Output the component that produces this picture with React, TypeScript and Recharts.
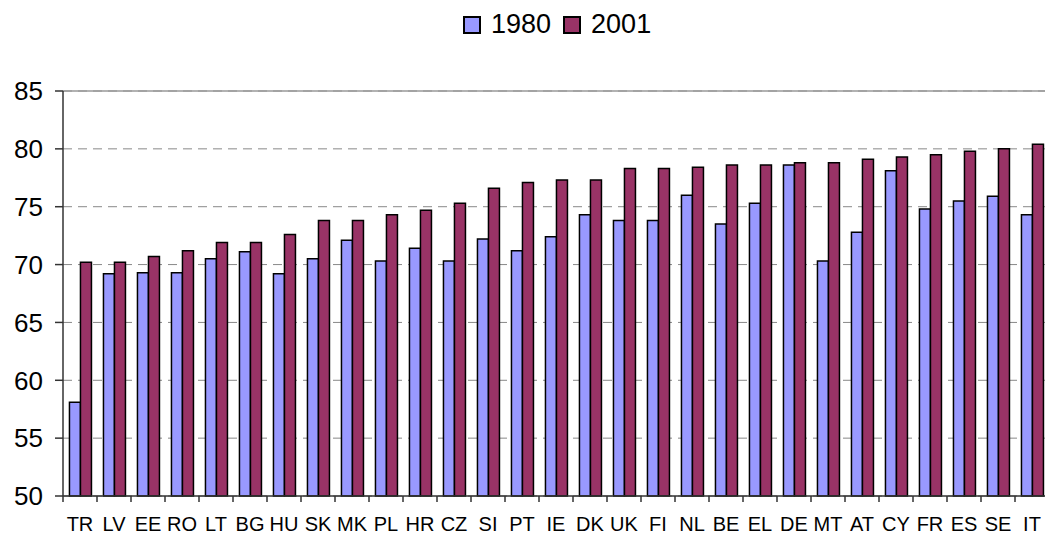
import { Bar, BarChart, CartesianGrid, ReferenceLine, XAxis, YAxis } from "recharts";

const countries = [
  "TR", "LV", "EE", "RO", "LT", "BG", "HU", "SK", "MK", "PL", "HR", "CZ", "SI", "PT", "IE",
  "DK", "UK", "FI", "NL", "BE", "EL", "DE", "MT", "AT", "CY", "FR", "ES", "SE", "IT",
];
const y1980 = [
  58.1, 69.2, 69.3, 69.3, 70.5, 71.1, 69.2, 70.5, 72.1, 70.3, 71.4, 70.3, 72.2, 71.2, 72.4,
  74.3, 73.8, 73.8, 76.0, 73.5, 75.3, 78.6, 70.3, 72.8, 78.1, 74.8, 75.5, 75.9, 74.3,
];
const y2001 = [
  70.2, 70.2, 70.7, 71.2, 71.9, 71.9, 72.6, 73.8, 73.8, 74.3, 74.7, 75.3, 76.6, 77.1, 77.3,
  77.3, 78.3, 78.3, 78.4, 78.6, 78.6, 78.8, 78.8, 79.1, 79.3, 79.5, 79.8, 80.0, 80.4,
];
const yTicks = [50, 55, 60, 65, 70, 75, 80, 85];

const data = countries.map((c, i) => ({ country: c, a: y1980[i], b: y2001[i] }));

const FONT = "'Liberation Sans', Arial, sans-serif";
const C1980 = "#9999FF";
const C2001 = "#993366";
const HALF_BAND = 17;

function CountryTick(props: any) {
  const { x, y, payload } = props;
  return (
    <g>
      <line x1={x - HALF_BAND} x2={x - HALF_BAND} y1={y} y2={y + 6} stroke="#333" strokeWidth={1.5} />
      <text x={x} y={y + 21} dy="0.71em" textAnchor="middle" fontSize={20} fill="#000" fontFamily={FONT}>
        {payload.value}
      </text>
    </g>
  );
}

function LegendBox() {
  const item = (color: string, label: string) => (
    <span style={{ display: "inline-flex", alignItems: "center", marginRight: 12 }}>
      <span style={{ width: 14, height: 14, background: color, border: "2px solid #000", marginRight: 10 }} />
      <span style={{ fontSize: 27, lineHeight: "27px" }}>{label}</span>
    </span>
  );
  return (
    <div
      style={{
        position: "absolute", top: 11, left: 463, fontFamily: FONT, color: "#000",
        display: "flex", alignItems: "center", zIndex: 1,
      }}
    >
      {item(C1980, "1980")}
      {item(C2001, "2001")}
    </div>
  );
}

export default function App() {
  return (
    <div style={{ position: "fixed", left: 0, top: 0, width: 1045, height: 535, overflow: "hidden", background: "#fff" }}>
      <LegendBox />
      <BarChart
        width={1052}
        height={560}
        data={data}
        margin={{ top: 91, right: 3, bottom: 0, left: 0 }}
        barCategoryGap="19%"
        barGap={0}
      >
        <CartesianGrid vertical={false} stroke="#888" strokeDasharray="9 6" />
        <ReferenceLine y={85} stroke="#999" strokeWidth={1.5} />
        <XAxis
          dataKey="country"
          interval={0}
          height={64}
          tickSize={0}
          tickMargin={0}
          tickLine={false}
          axisLine={{ stroke: "#333", strokeWidth: 1.5 }}
          tick={<CountryTick />}
        />
        <YAxis
          domain={[50, 85]}
          ticks={yTicks}
          width={63}
          tickSize={8}
          tickMargin={12}
          axisLine={{ stroke: "#333", strokeWidth: 1.5 }}
          tickLine={{ stroke: "#333", strokeWidth: 1.5 }}
          tick={{ fontSize: 26, fill: "#000", fontFamily: FONT }}
        />
        <Bar dataKey="a" name="1980" fill={C1980} stroke="#000" strokeWidth={1.5} isAnimationActive={false} />
        <Bar dataKey="b" name="2001" fill={C2001} stroke="#000" strokeWidth={1.5} isAnimationActive={false} />
      </BarChart>
    </div>
  );
}
